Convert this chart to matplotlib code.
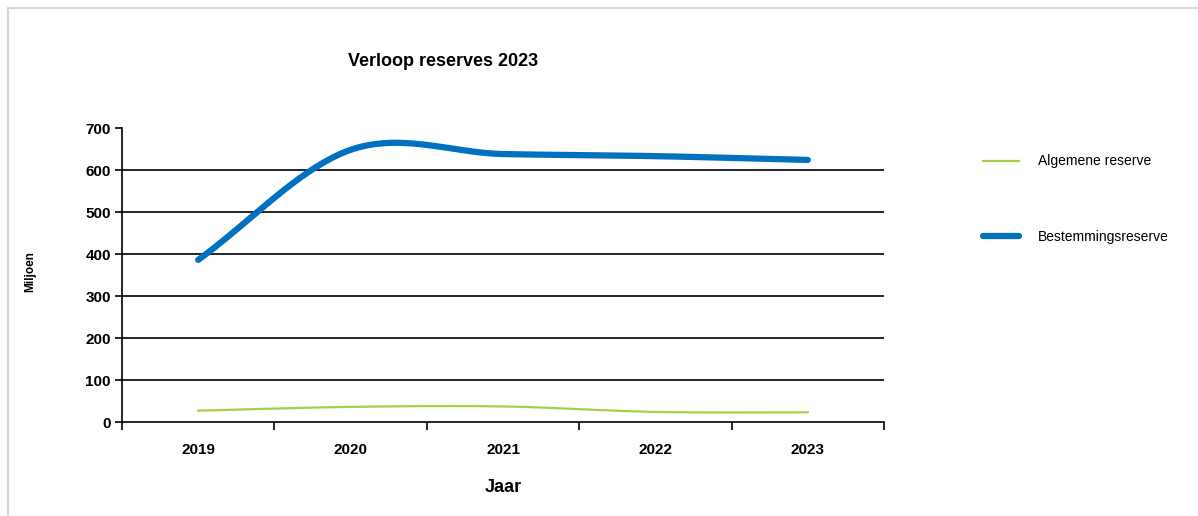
import matplotlib.pyplot as plt
import numpy as np
from matplotlib.patches import Rectangle

# Data (miljoen)
jaren = ["2019", "2020", "2021", "2022", "2023"]
algemene_reserve = [27, 36, 37, 24, 23]
bestemmingsreserve = [386, 648, 638, 633, 624]


def smooth(x, y, n=40):
    # Excel-achtige vloeiende lijn (Catmull-Rom)
    x = np.asarray(x, float)
    y = np.asarray(y, float)
    px = np.concatenate([[2 * x[0] - x[1]], x, [2 * x[-1] - x[-2]]])
    py = np.concatenate([[2 * y[0] - y[1]], y, [2 * y[-1] - y[-2]]])
    xs, ys = [], []
    t = np.linspace(0, 1, n)
    for i in range(1, len(px) - 2):
        p0, p1, p2, p3 = py[i - 1], py[i], py[i + 1], py[i + 2]
        q0, q1, q2, q3 = px[i - 1], px[i], px[i + 1], px[i + 2]
        f = lambda a, b, c, d: 0.5 * ((2 * b) + (-a + c) * t + (2 * a - 5 * b + 4 * c - d) * t ** 2 + (-a + 3 * b - 3 * c + d) * t ** 3)
        xs.append(f(q0, q1, q2, q3))
        ys.append(f(p0, p1, p2, p3))
    return np.concatenate(xs), np.concatenate(ys)


plt.rcParams['font.family'] = ['Liberation Sans', 'DejaVu Sans']

fig = plt.figure(figsize=(11.98, 5.16), dpi=100)
fig.patches.append(Rectangle((8 / 1198, -0.01), 1.02, 1 - 8 / 516 + 0.01, transform=fig.transFigure,
                             fill=False, edgecolor="#d9d9d9", linewidth=1.5))

ax = fig.add_axes([122 / 1198, 94 / 516, 762 / 1198, 294 / 516])
pos = np.arange(len(jaren))

gx, gy = smooth(pos, algemene_reserve)
ax.plot(gx, gy, color="#A6D146", linewidth=1.6, label="Algemene reserve", zorder=3)
bx, by = smooth(pos, bestemmingsreserve)
ax.plot(bx, by, color="#0070C0", linewidth=4.5, solid_capstyle="round",
        label="Bestemmingsreserve", zorder=4)

ax.set_xlim(-0.5, len(jaren) - 0.5)
ax.set_ylim(0, 700)
ax.set_yticks(range(0, 701, 100))
for v in range(100, 700, 100):
    ax.axhline(v, color="black", linewidth=1.2, zorder=1)

ax.set_xticks(pos)
ax.set_xticklabels(jaren, fontsize=11, fontweight="bold")
ax.set_xticks(np.arange(-0.5, len(jaren)), minor=True)
ax.tick_params(axis="x", which="major", length=0, pad=15)
ax.tick_params(axis="x", which="minor", length=6, width=1.2, direction="out")
ax.tick_params(axis="y", length=5, width=1.2, labelsize=11, pad=3)
for lbl in ax.get_yticklabels():
    lbl.set_fontweight("bold")

for s in ["top", "right"]:
    ax.spines[s].set_visible(False)
ax.spines["left"].set_linewidth(1.2)
ax.spines["bottom"].set_linewidth(1.2)

ax.set_xlabel("Jaar", fontsize=13, fontweight="bold", labelpad=16)
fig.text(30 / 1198, 1 - 272 / 516, "Miljoen", rotation=90, fontsize=8.5, fontweight="bold",
         ha="center", va="center")
fig.text(443 / 1198, 1 - 62 / 516, "Verloop reserves 2023", fontsize=13, fontweight="bold",
         ha="center", va="center")

ax.legend(loc="upper left", bbox_to_anchor=(970 / 1198, 1 - 142 / 516), bbox_transform=fig.transFigure,
          frameon=False, fontsize=10, handlelength=2.6, labelspacing=4.4, handletextpad=1.4)

fig.savefig("out.png", dpi=100)
